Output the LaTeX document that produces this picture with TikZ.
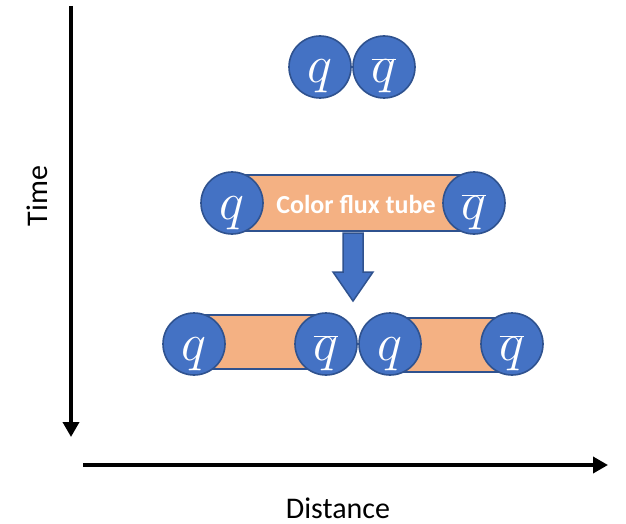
\RequirePackage{fix-cm}
\documentclass[tikz,border=0pt]{standalone}
\usepackage{fontspec}
\setmainfont{Carlito}
\usetikzlibrary{arrows.meta,calc}
\definecolor{qfill}{HTML}{4472C4}
\definecolor{qedge}{HTML}{2F528F}
\definecolor{tubefill}{HTML}{F4B183}
\tikzset{
  quark/.style={circle, fill=qfill, draw=qedge, line width=1.6pt, minimum size=62pt, inner sep=0pt},
  qlab/.style={anchor=base, inner sep=0pt, text=white, font=\fontsize{53}{53}\selectfont},
  tube/.style={fill=tubefill, draw=qedge, line width=1.6pt},
  axis/.style={line width=3.6pt, -{Triangle[length=15pt,width=16pt]}},
  axislabel/.style={font=\fontsize{30}{30}\selectfont, inner sep=0pt},
  blockarrow/.style={fill=qfill, draw=qedge, line width=1.5pt, line join=miter}
}
\begin{document}
\begin{tikzpicture}[x=1pt, y=-1pt]
\useasboundingbox (0,0) rectangle (626,524);

% axes
\coordinate (tTop) at (71,6);
\coordinate (tEnd) at (71,437);
\coordinate (dStart) at (83,465);
\coordinate (dEnd) at (608,465);
\draw[axis] (tTop) -- (tEnd);
\draw[axis] (dStart) -- (dEnd);
\node[axislabel, rotate=90, anchor=base] (timeLbl) at (47,196) {Time};
\node[axislabel, anchor=base] (distLbl) at (338,518) {Distance};

% bound pair
\node[quark] (aq) at (320,67) {};
\node[quark] (aqb) at (384,67) {};
\path (aq) ++(0,16) node[qlab] {$q$};
\path (aqb) ++(0,16) node[qlab] {$\overline{q}$};

% stretched pair with flux tube
\coordinate (bq) at (232,203);
\coordinate (bqb) at (474,203);
\draw[tube] ($(bq)+(0,-28)$) rectangle ($(bqb)+(0,28)$);
\node[quark] (bqn) at (bq) {};
\node[quark] (bqbn) at (bqb) {};
\path (bqn) ++(0,16) node[qlab] {$q$};
\path (bqbn) ++(0,16) node[qlab] {$\overline{q}$};
\node[anchor=base, text=white, inner sep=0pt, font=\fontsize{26}{26}\selectfont\bfseries] (tubeLbl) at (356,213) {Color flux tube};

% block arrow
\draw[blockarrow] (343,233) -- (363,233) -- (363,272) -- (373,272) -- (353,301) -- (333,272) -- (343,272) -- cycle;

% two pairs after string breaking
\draw[tube] (194,315) rectangle (326,369);
\draw[tube] (390,318) rectangle (512,372);
\node[quark] (cq1) at (194,344) {};
\node[quark] (cqb1) at (326,344) {};
\node[quark] (cq2) at (390,344) {};
\node[quark] (cqb2) at (512,344) {};
\path (cq1) ++(0,16) node[qlab] {$q$};
\path (cqb1) ++(0,16) node[qlab] {$\overline{q}$};
\path (cq2) ++(0,16) node[qlab] {$q$};
\path (cqb2) ++(0,16) node[qlab] {$\overline{q}$};
\end{tikzpicture}
\end{document}
